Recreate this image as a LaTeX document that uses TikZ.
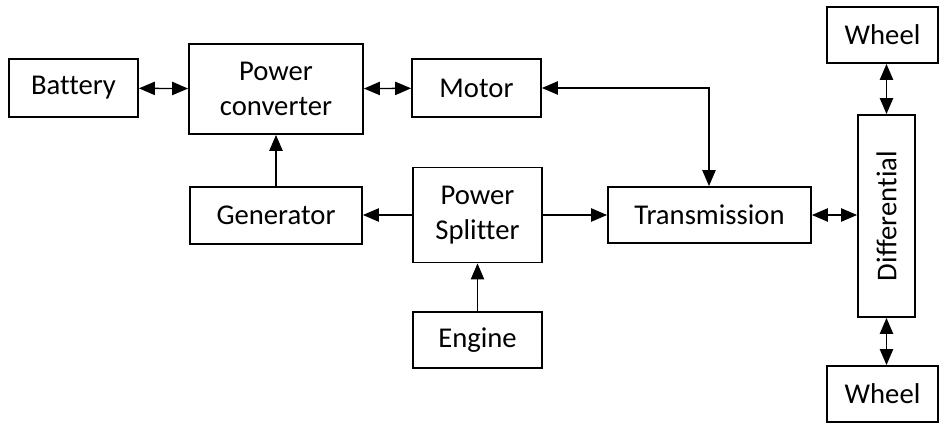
\documentclass[tikz,border=0pt]{standalone}
\usepackage{fontspec}
\setmainfont{Carlito}[Ligatures={NoCommon}]
\usetikzlibrary{arrows.meta}
\begin{document}
\begin{tikzpicture}[x=0.75pt,y=-0.75pt,
  blk/.style={draw,line width=1.4pt,inner sep=0pt,align=center,font=\fontsize{21.5}{26}\selectfont},
  conn/.style={line width=1pt,-{Triangle[length=12pt,width=10pt]}},
  bconn/.style={line width=1pt,{Triangle[length=12pt,width=10pt]}-{Triangle[length=12pt,width=10pt]}}]
\useasboundingbox (0,0) rectangle (942,423);
\node[blk,minimum width=96.75pt,minimum height=43.5pt] (bat) at (73.5,88) {Battery};
\node[blk,minimum width=130.5pt,minimum height=67.5pt] (conv) at (276,89) {Power\\converter};
\node[blk,minimum width=96.75pt,minimum height=43.5pt] (mot) at (476.5,88) {Motor};
\node[blk,minimum width=129pt,minimum height=42.75pt] (gen) at (276,215.5) {Generator};
\node[blk,minimum width=96.75pt,minimum height=71.25pt] (spl) at (477.5,215) {Power\\Splitter};
\node[blk,minimum width=152.25pt,minimum height=42pt] (tra) at (709.5,215) {Transmission};
\node[blk,minimum width=96.75pt,minimum height=42pt] (eng) at (477.5,340) {Engine};
\node[blk,minimum width=83pt,minimum height=42pt] (w1) at (882.5,35) {Wheel};
\node[blk,minimum width=42.75pt,minimum height=151.5pt] (dif) at (886.5,216) {\rotatebox{90}{Differential}};
\node[blk,minimum width=83pt,minimum height=42pt] (w2) at (882.5,394) {Wheel};
\coordinate (mt) at (709,88);
\draw[bconn] (bat) -- (conv);
\draw[bconn] (conv) -- (mot);
\draw[bconn] (mot.east) -- (mt) -- (tra.north -| mt);
\draw[conn] (gen.north) -- (conv.south);
\draw[conn] (spl.west) -- (spl.west -| gen.east);
\draw[conn] (spl.east) -- (spl.east -| tra.west);
\draw[conn] (eng.north) -- (spl.south);
\draw[bconn] (tra.east) -- (dif.west |- tra.east);
\draw[bconn] (w1.south -| dif) -- (dif.north);
\draw[bconn] (dif.south) -- (w2.north -| dif);
\end{tikzpicture}
\end{document}
